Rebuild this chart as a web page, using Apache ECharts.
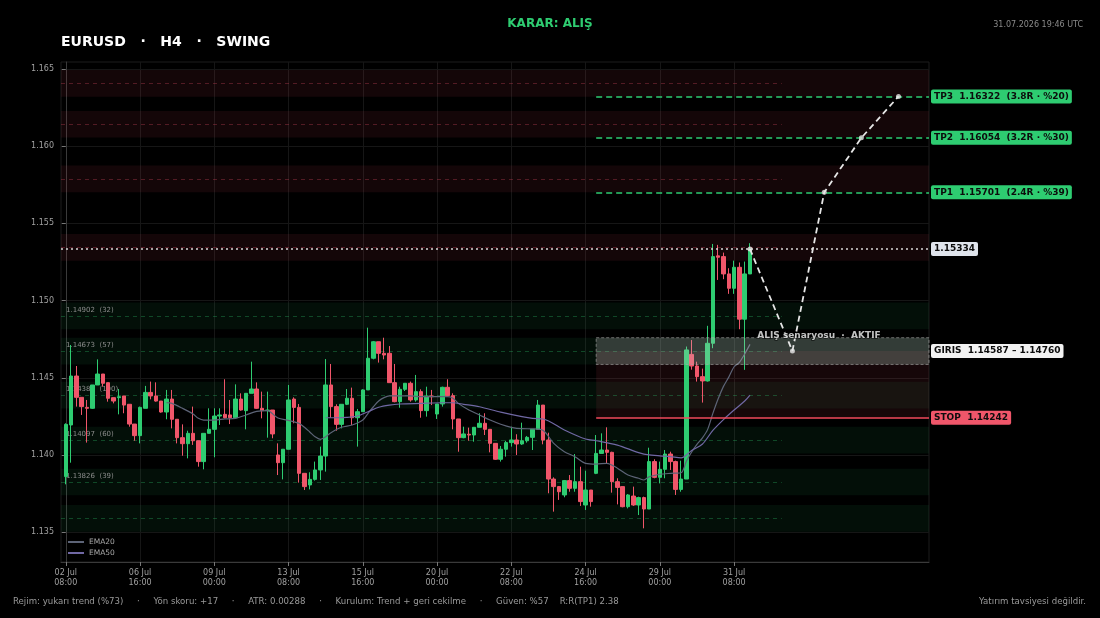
<!DOCTYPE html>
<html><head><meta charset="utf-8">
<script src="https://cdn.jsdelivr.net/npm/echarts@6/dist/echarts.min.js"></script>
<style>html,body{margin:0;padding:0;background:#000;}#c{width:1100px;height:618px;}</style>
</head><body><div id="c"></div>
<script>
// ---------- DATA ----------
const opens  = [1.13861,1.14195,1.14512,1.14374,1.14309,1.14303,1.14454,1.14525,1.14469,1.14372,
 1.14372,1.14383,1.14329,1.14201,1.14126,1.14303,1.14406,1.14383,1.14350,1.14279,
 1.14363,1.14232,1.14113,1.14074,1.14141,1.14093,1.13958,1.14141,1.14167,1.14253,
 1.14264,1.14260,1.14242,1.14363,1.14288,1.14400,1.14428,1.14303,1.14288,1.14292,
 1.14001,1.13951,1.14038,1.14363,1.14309,1.13882,1.13807,1.13843,1.13904,1.13994,
 1.14454,1.14314,1.14199,1.14329,1.14368,1.14242,1.14281,1.14422,1.14627,1.14734,
 1.14659,1.14659,1.14469,1.14346,1.14426,1.14465,1.14357,1.14411,1.14288,1.14383,
 1.14266,1.14331,1.14439,1.14385,1.14234,1.14113,1.14135,1.14130,1.14180,1.14206,
 1.14167,1.14076,1.13973,1.14038,1.14081,1.14098,1.14072,1.14093,1.14115,1.14167,
 1.14324,1.14098,1.13845,1.13796,1.13742,1.13835,1.13785,1.13828,1.13677,1.13774,
 1.13882,1.14011,1.14033,1.14018,1.13828,1.13796,1.13666,1.13735,1.13677,1.13725,
 1.13651,1.13958,1.13856,1.13908,1.14007,1.13958,1.13778,1.13845,1.14652,1.14577,
 1.14508,1.14480,1.14724,1.15290,1.15285,1.15173,1.15080,1.15216,1.14880,1.15173];
const closes = [1.14199,1.14512,1.14374,1.14314,1.14303,1.14454,1.14525,1.14465,1.14368,1.14350,
 1.14378,1.14324,1.14201,1.14126,1.14309,1.14406,1.14383,1.14350,1.14279,1.14363,
 1.14232,1.14113,1.14074,1.14141,1.14093,1.13958,1.14141,1.14167,1.14253,1.14260,
 1.14242,1.14242,1.14363,1.14292,1.14400,1.14428,1.14303,1.14288,1.14292,1.14137,
 1.13951,1.14038,1.14357,1.14309,1.13882,1.13796,1.13843,1.13904,1.13994,1.14454,
 1.14314,1.14199,1.14329,1.14368,1.14242,1.14281,1.14422,1.14627,1.14734,1.14659,
 1.14648,1.14469,1.14346,1.14426,1.14465,1.14357,1.14411,1.14288,1.14383,1.14378,
 1.14331,1.14439,1.14385,1.14234,1.14113,1.14137,1.14130,1.14180,1.14206,1.14167,
 1.14076,1.13973,1.14038,1.14081,1.14098,1.14072,1.14093,1.14115,1.14167,1.14324,
 1.14098,1.13845,1.13796,1.13763,1.13835,1.13785,1.13828,1.13699,1.13774,1.13699,
 1.14011,1.14033,1.14018,1.13828,1.13791,1.13666,1.13742,1.13677,1.13725,1.13651,
 1.13958,1.13856,1.13908,1.14007,1.13958,1.13778,1.13845,1.14681,1.14577,1.14508,
 1.14480,1.14724,1.15285,1.15281,1.15173,1.15080,1.15216,1.14880,1.15173,1.15334];
const lows   = [1.13811,1.13951,1.14314,1.14260,1.14081,1.14299,1.14454,1.14443,1.14346,1.14335,
 1.14264,1.14271,1.14184,1.14093,1.14076,1.14303,1.14361,1.14346,1.14275,1.14232,
 1.14173,1.14076,1.13996,1.13979,1.14066,1.13925,1.13908,1.14141,1.13986,1.14195,
 1.14238,1.14201,1.14238,1.14288,1.14167,1.14400,1.14299,1.14238,1.14113,1.14109,
 1.13871,1.13843,1.14038,1.14206,1.13822,1.13774,1.13778,1.13835,1.13839,1.13893,
 1.14242,1.14158,1.14173,1.14324,1.14195,1.14055,1.14281,1.14422,1.14620,1.14599,
 1.14620,1.14469,1.14342,1.14307,1.14415,1.14346,1.14346,1.14242,1.14249,1.14324,
 1.14234,1.14314,1.14383,1.14167,1.14022,1.14109,1.14093,1.14087,1.14180,1.14130,
 1.14018,1.13969,1.13958,1.13990,1.14055,1.14001,1.14066,1.14081,1.14033,1.14167,
 1.14070,1.13753,1.13634,1.13710,1.13727,1.13763,1.13763,1.13671,1.13645,1.13666,
 1.13877,1.14011,1.13947,1.13757,1.13681,1.13662,1.13655,1.13671,1.13612,1.13526,
 1.13651,1.13850,1.13817,1.13850,1.13904,1.13742,1.13763,1.13845,1.14553,1.14476,
 1.14340,1.14476,1.14692,1.15134,1.15139,1.15044,1.15044,1.14815,1.14552,1.15173];
const highs  = [1.14206,1.14713,1.14577,1.14374,1.14357,1.14454,1.14620,1.14525,1.14469,1.14372,
 1.14428,1.14383,1.14329,1.14201,1.14314,1.14448,1.14476,1.14471,1.14350,1.14422,
 1.14422,1.14232,1.14199,1.14158,1.14314,1.14093,1.14141,1.14303,1.14303,1.14303,
 1.14491,1.14357,1.14458,1.14400,1.14400,1.14605,1.14471,1.14411,1.14411,1.14292,
 1.14076,1.14038,1.14454,1.14374,1.14331,1.13882,1.13889,1.13958,1.14055,1.14622,
 1.14590,1.14329,1.14329,1.14428,1.14437,1.14299,1.14426,1.14825,1.14739,1.14734,
 1.14760,1.14706,1.14590,1.14443,1.14465,1.14476,1.14519,1.14426,1.14443,1.14422,
 1.14331,1.14443,1.14491,1.14400,1.14234,1.14184,1.14178,1.14180,1.14271,1.14271,
 1.14167,1.14076,1.14059,1.14093,1.14184,1.14135,1.14210,1.14124,1.14167,1.14357,
 1.14324,1.14145,1.13856,1.13800,1.13839,1.13871,1.14007,1.13925,1.13899,1.13774,
 1.14130,1.14141,1.14180,1.14022,1.13850,1.13796,1.13748,1.13796,1.13731,1.13731,
 1.14048,1.13973,1.13958,1.14033,1.14022,1.13964,1.13964,1.14703,1.14745,1.14605,
 1.14560,1.14837,1.15367,1.15361,1.15311,1.15210,1.15259,1.15247,1.15253,1.15372];

const tickIndex  = [0,14,28,42,56,70,84,98,112,126];
const tickLabels = ['02 Jul\n08:00','06 Jul\n16:00','09 Jul\n00:00','13 Jul\n08:00','15 Jul\n16:00',
                    '20 Jul\n00:00','22 Jul\n08:00','24 Jul\n16:00','29 Jul\n00:00','31 Jul\n08:00'];
const priceTicks = [1.135,1.140,1.145,1.150,1.155,1.160,1.165];

const ema20 = [[19,1.14340],[20,1.14335],[22,1.14303],[24,1.14266],[25,1.14238],[26,1.14227],[28,1.14227],
 [30,1.14234],[32,1.14238],[34,1.14260],[36,1.14283],[38,1.14288],[40,1.14240],[42,1.14225],[44,1.14205],
 [45,1.14180],[46,1.14150],[47,1.14119],[48,1.14102],[49,1.14119],[50,1.14145],[52,1.14180],[54,1.14195],
 [56,1.14227],[57,1.14271],[58,1.14313],[59,1.14350],[60,1.14372],[61,1.14383],[63,1.14383],[65,1.14383],
 [67,1.14378],[69,1.14378],[71,1.14378],[72,1.14378],[73,1.14368],[74,1.14335],[76,1.14292],[78,1.14260],
 [80,1.14227],[82,1.14200],[84,1.14180],[86,1.14171],[88,1.14170],[90,1.14160],[92,1.14076],[94,1.14022],
 [96,1.13990],[98,1.13947],[100,1.13942],[102,1.13947],[104,1.13915],[106,1.13871],[108,1.13850],
 [109,1.13839],[110,1.13860],[112,1.13876],[114,1.13882],[116,1.13886],[117,1.13960],[118,1.14020],
 [119,1.14070],[120,1.14110],[121,1.14165],[122,1.14270],[123,1.14365],[124,1.14445],[125,1.14505],
 [126,1.14572],[127,1.14600],[128,1.14655],[129,1.14717]];
const ema50 = [[49,1.14242],[51,1.14242],[53,1.14244],[55,1.14253],[57,1.14281],[59,1.14310],[61,1.14324],
 [63,1.14331],[67,1.14335],[71,1.14339],[73,1.14339],[75,1.14329],[78,1.14313],[82,1.14278],[86,1.14249],
 [88,1.14238],[90,1.14234],[94,1.14163],[98,1.14104],[100,1.14093],[104,1.14065],[108,1.14016],
 [110,1.14001],[114,1.13990],[116,1.13982],[118,1.14030],[120,1.14070],[122,1.14160],[124,1.14230],
 [126,1.14292],[128,1.14350],[129,1.14389]];

const supportLevels   = [1.14902,1.14673,1.14388,1.14097,1.13826,1.13591];
const supportTouches  = ['32','57','100','60','39',''];
const resistanceLevels= [1.16407,1.16142,1.15788,1.15345];
const atr = 0.00288;
const lastPrice = 1.15334;
const entryLow = 1.14587, entryHigh = 1.14760, stopPrice = 1.14242;
const tpNames  = ['TP1','TP2','TP3'];
const tpPrices = [1.15701,1.16054,1.16322];
const tpR      = ['2.4R','3.2R','3.8R'];
const tpPct    = ['%39','%30','%20'];
const projIdx   = [129,137,143,150,157];
const projPrice = [1.15334,1.146735,1.15701,1.16054,1.16322];

const titleText = 'EURUSD   ·   H4   ·   SWING';
const decisionText = 'KARAR: ALIŞ';
const stampText = '31.07.2026 19:46 UTC';
const footerText = 'Rejim: yukarı trend (%73)     ·     Yön skoru: +17     ·     ATR: 0.00288     ·     Kurulum: Trend + geri cekilme     ·     Güven: %57    R:R(TP1) 2.38';
const disclaimerText = 'Yatırım tavsiyesi değildir.';
const scenarioText = 'ALIŞ senaryosu  ·  AKTIF';

// ---------- CHART ----------
const FONT = '"DejaVu Sans", sans-serif';
const GREEN = '#2ecc71', RED = '#f0566a';
const X_MIN = -0.9, X_MAX = 162.75, PLAN_START = 100, LEVEL_END = 135;
const zoneHalf = 0.3 * atr;

const candles = opens.map((o, i) => [i, o, closes[i], lows[i], highs[i]]);

const bandAreas = [];
resistanceLevels.forEach(l => bandAreas.push([{yAxis: l + zoneHalf, itemStyle: {color: 'rgba(235,70,95,0.085)'}}, {yAxis: l - zoneHalf}]));
supportLevels.forEach(l => bandAreas.push([{yAxis: l + zoneHalf, itemStyle: {color: 'rgba(46,204,113,0.075)'}}, {yAxis: l - zoneHalf}]));

const levelLines = [];
resistanceLevels.forEach(l => levelLines.push([
  {coord: [X_MIN, l], lineStyle: {color: 'rgba(200,70,90,0.35)'}, label: {show: false}},
  {coord: [LEVEL_END, l]}]));
supportLevels.forEach((l, k) => levelLines.push([
  {coord: [X_MIN, l], lineStyle: {color: 'rgba(46,204,113,0.3)'},
   label: {show: supportTouches[k] !== '', formatter: l.toFixed(5) + '  (' + supportTouches[k] + ')'}},
  {coord: [LEVEL_END, l]}]));

const lblBase = {show: true, position: 'end', distance: 2, fontFamily: FONT, fontWeight: 'bold', fontSize: 9,
                 padding: [3, 3, 2, 3], borderRadius: 2, color: '#0c0c0c'};
const planLines = [];
tpPrices.forEach((p, k) => planLines.push([
  {coord: [PLAN_START, p], lineStyle: {color: GREEN, type: [6, 4], width: 1.5},
   label: Object.assign({}, lblBase, {backgroundColor: GREEN,
     formatter: tpNames[k] + '  ' + p.toFixed(5) + '  (' + tpR[k] + ' · ' + tpPct[k] + ')'})},
  {coord: [X_MAX, p]}]));
planLines.push([
  {coord: [PLAN_START, stopPrice], lineStyle: {color: '#f24a5c', type: 'solid', width: 1.6},
   label: Object.assign({}, lblBase, {backgroundColor: '#f0566a', formatter: 'STOP  ' + stopPrice.toFixed(5)})},
  {coord: [X_MAX, stopPrice]}]);
planLines.push([
  {coord: [PLAN_START, (entryLow + entryHigh) / 2], lineStyle: {color: 'rgba(0,0,0,0)', width: 0},
   label: Object.assign({}, lblBase, {backgroundColor: '#f2f2f2', formatter: 'GIRIS  ' + entryLow.toFixed(5) + ' – ' + entryHigh.toFixed(5)})},
  {coord: [X_MAX, (entryLow + entryHigh) / 2]}]);
planLines.push([
  {coord: [X_MIN, lastPrice], lineStyle: {color: '#d8d8d8', type: [2, 3], width: 1.5},
   label: Object.assign({}, lblBase, {backgroundColor: '#dfe4ec', formatter: lastPrice.toFixed(5)})},
  {coord: [X_MAX, lastPrice]}]);

const projPts = projIdx.map((x, k) => [x, projPrice[k]]);

const chart = echarts.init(document.getElementById('c'), null, {renderer: 'canvas'});
chart.setOption({
  backgroundColor: '#000',
  animation: false,
  textStyle: {fontFamily: FONT},
  grid: {left: 61, right: 171, top: 62, bottom: 56, show: true, borderColor: '#1d1d1d', borderWidth: 1, backgroundColor: 'transparent'},
  legend: {
    left: 63, top: 533, orient: 'vertical', itemWidth: 16, itemHeight: 2, itemGap: 3, icon: 'rect',
    textStyle: {color: '#a8a8a8', fontSize: 7.5, fontFamily: FONT},
    data: ['EMA20', 'EMA50']
  },
  xAxis: {
    type: 'value', min: X_MIN, max: X_MAX,
    axisLine: {show: true, lineStyle: {color: '#3a3a3a'}},
    axisTick: {show: true, customValues: tickIndex, length: 4, lineStyle: {color: '#777'}},
    axisLabel: {customValues: tickIndex, color: '#a0a0a0', fontSize: 8, lineHeight: 10, margin: 6, fontFamily: FONT,
      formatter: v => tickLabels[tickIndex.indexOf(Math.round(v))] || ''},
    splitLine: {show: true, lineStyle: {color: '#161616', width: 1}}
  },
  yAxis: {
    type: 'value', min: 1.13308, max: 1.16545, scale: true,
    axisLine: {show: true, lineStyle: {color: '#3a3a3a'}},
    axisTick: {show: true, customValues: priceTicks, length: 4, lineStyle: {color: '#777'}},
    axisLabel: {customValues: priceTicks, color: '#a0a0a0', fontSize: 8, margin: 7, fontFamily: FONT,
      formatter: v => v.toFixed(3)},
    splitLine: {show: true, lineStyle: {color: '#161616', width: 1}}
  },
  series: [
    {
      name: 'zones', type: 'line', data: [], z: 1, silent: true,
      markArea: {silent: true, z: 1, data: bandAreas},
      markLine: {silent: true, z: 1, symbol: 'none',
        lineStyle: {type: [4, 4], width: 1},
        label: {show: true, position: 'insideStartTop', distance: [5, 2], color: '#8c8c8c', fontSize: 7, fontFamily: FONT},
        data: levelLines}
    },
    {
      name: 'risk', type: 'line', data: [], z: 1, silent: true,
      markArea: {silent: true, z: 1, data: [[
        {coord: [PLAN_START, stopPrice], itemStyle: {color: 'rgba(240,80,100,0.09)'}},
        {coord: [X_MAX, (entryLow + entryHigh) / 2]}]]}
    },
    {
      name: 'EURUSD', type: 'candlestick', z: 2, data: candles, encode: {x: 0, y: [1, 2, 3, 4]},
      barWidth: 4,
      itemStyle: {color: GREEN, color0: RED, borderColor: GREEN, borderColor0: RED, borderWidth: 1}
    },
    {name: 'EMA20', type: 'line', z: 3, data: ema20, showSymbol: false, smooth: 0.3,
     lineStyle: {color: '#5d6477', width: 1.2}, itemStyle: {color: '#5d6477'}},
    {name: 'EMA50', type: 'line', z: 3, data: ema50, showSymbol: false, smooth: 0.3,
     lineStyle: {color: '#7068a4', width: 1.2}, itemStyle: {color: '#7068a4'}},
    {
      name: 'plan', type: 'line', data: [], z: 4, silent: true,
      markArea: {silent: true, z: 4, data: [[
        {coord: [PLAN_START, entryHigh], itemStyle: {color: 'rgba(205,205,205,0.24)', borderColor: 'rgba(170,170,170,0.6)', borderWidth: 1, borderType: [3, 2]}},
        {coord: [X_MAX, entryLow]}]]},
      markLine: {silent: true, z: 5, symbol: 'none', data: planLines}
    },
    {
      name: 'proj', type: 'lines', coordinateSystem: 'cartesian2d', polyline: true, z: 6, silent: true,
      symbol: ['none', 'arrow'], symbolSize: 8,
      lineStyle: {color: '#e6e6e6', width: 1.8, type: [6, 4], opacity: 1, curveness: 0},
      data: [{coords: projPts.slice(0, 2)}, {coords: projPts.slice(1)}]
    },
    {
      name: 'projPts', type: 'scatter', z: 7, silent: true, data: projPts, symbolSize: 5,
      itemStyle: {color: '#e6e6e6'}
    },
    {
      name: 'scenario', type: 'scatter', z: 8, silent: true, data: [[142, 1.14775]], symbolSize: 1,
      itemStyle: {color: 'rgba(0,0,0,0)'},
      label: {show: true, position: 'inside', formatter: scenarioText, color: '#f2f2f2', fontWeight: 'bold',
              fontSize: 9, fontFamily: FONT, textBorderColor: 'rgba(0,0,0,0.6)', textBorderWidth: 2}
    }
  ],
  graphic: [
    {type: 'text', x: 61, y: 42, style: {text: titleText, fill: '#ffffff', font: 'bold 14px ' + FONT, textAlign: 'left', textVerticalAlign: 'middle', align: 'left', verticalAlign: 'middle'}},
    {type: 'text', x: 550, y: 24, style: {text: decisionText, fill: GREEN, font: 'bold 12px ' + FONT, textAlign: 'center', textVerticalAlign: 'middle', align: 'center', verticalAlign: 'middle'}},
    {type: 'text', x: 1083, y: 25, style: {text: stampText, fill: '#8a8a8a', font: '8px ' + FONT, textAlign: 'right', textVerticalAlign: 'middle', align: 'right', verticalAlign: 'middle'}},
    {type: 'text', x: 13, y: 602, style: {text: footerText, fill: '#9a9a9a', font: '8.6px ' + FONT, textAlign: 'left', textVerticalAlign: 'middle', align: 'left', verticalAlign: 'middle'}},
    {type: 'text', x: 1086, y: 602, style: {text: disclaimerText, fill: '#9a9a9a', font: '8.6px ' + FONT, textAlign: 'right', textVerticalAlign: 'middle', align: 'right', verticalAlign: 'middle'}}
  ]
});
</script></body></html>
